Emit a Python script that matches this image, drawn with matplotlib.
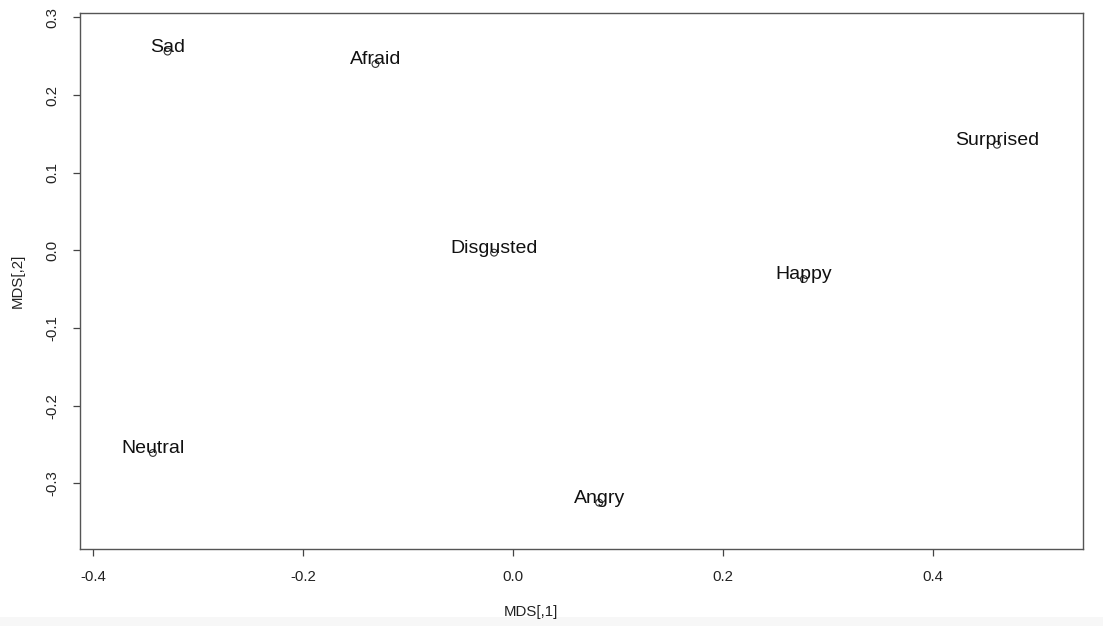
import matplotlib.pyplot as plt
from matplotlib.patches import Rectangle

# MDS coordinates
emotions = ["Sad", "Afraid", "Surprised", "Disgusted", "Happy", "Neutral", "Angry"]
mds1 = [-0.329, -0.131, 0.461, -0.018, 0.277, -0.343, 0.082]
mds2 = [0.256, 0.240, 0.136, -0.003, -0.037, -0.261, -0.325]

xticks = [-0.4, -0.2, 0.0, 0.2, 0.4]
yticks = [-0.3, -0.2, -0.1, 0.0, 0.1, 0.2, 0.3]

plt.rcParams['font.family'] = ['Liberation Sans', 'DejaVu Sans']
plt.rcParams['axes.unicode_minus'] = False

W, H = 1103, 626
fig = plt.figure(figsize=(W / 100, H / 100), dpi=100)
fig.patch.set_facecolor('white')

# light strip at the bottom of the screenshot
fig.patches.append(Rectangle((0, 0), 1, 9 / H, transform=fig.transFigure,
                             facecolor='#f7f7f7', edgecolor='none', zorder=0))

ax = fig.add_axes([80 / W, (H - 549) / H, (1083 - 80) / W, (549 - 13) / H])

ax.scatter(mds1, mds2, s=24, facecolors='none', edgecolors='#333333', linewidths=0.8)
for name, x, y in zip(emotions, mds1, mds2):
    ax.annotate(name, (x, y), xytext=(0, 3), textcoords='offset points',
                ha='center', va='center', fontsize=14, color='#111111')

ax.set_xlim(-0.4124, 0.5429)
ax.set_ylim(-0.3847, 0.3057)

ax.set_xticks(xticks)
ax.set_xticklabels([f"{v:.1f}" for v in xticks])
ax.set_yticks(yticks)
ax.set_yticklabels([f"{v:.1f}" for v in yticks], rotation=90, va='center')

ax.tick_params(axis='both', direction='out', length=5, width=0.9, color='#444444',
               labelsize=10.8, labelcolor='#222222')
ax.tick_params(axis='x', pad=10)
ax.tick_params(axis='y', pad=10)

for sp in ax.spines.values():
    sp.set_color('#555555')
    sp.set_linewidth(1.0)

fig.text(531 / W, 1 - 612 / H, "MDS[,1]", ha='center', va='center', fontsize=10.8, color='#222222')
fig.text(18 / W, 1 - 281 / H, "MDS[,2]", ha='center', va='center', rotation=90,
         fontsize=10.8, color='#222222')

fig.savefig('out.png', dpi=100, facecolor=fig.get_facecolor())
